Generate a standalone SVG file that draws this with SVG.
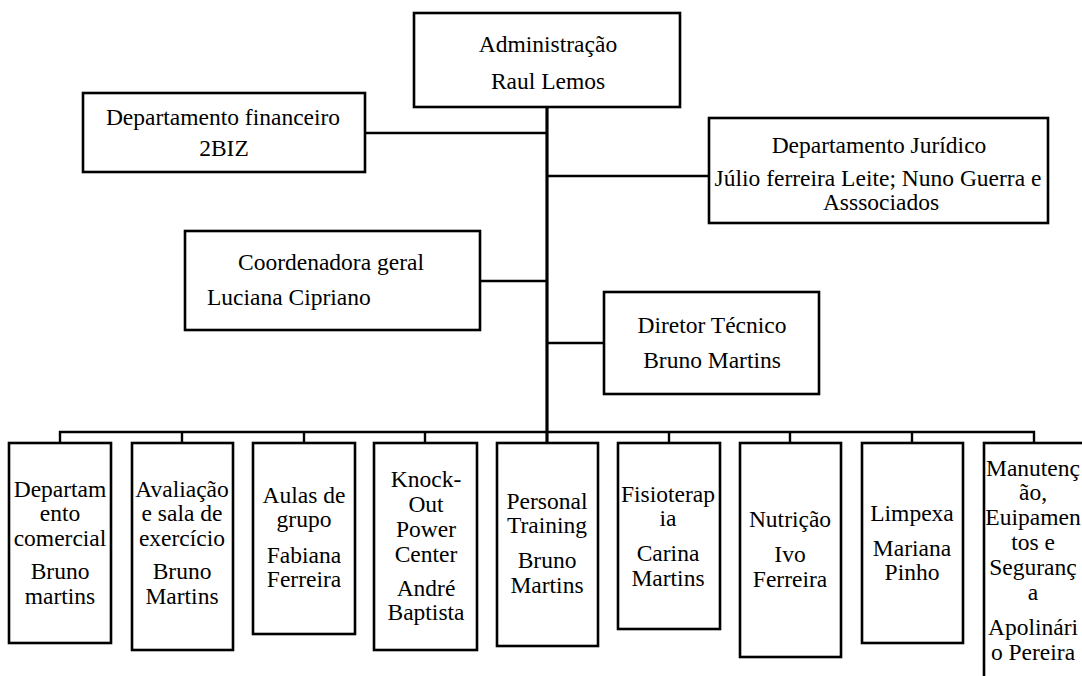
<svg xmlns="http://www.w3.org/2000/svg" width="1082" height="676" viewBox="0 0 1082 676">
<style>
.box{fill:#fff;stroke:#000;stroke-width:2.6}
.t{font-family:"Liberation Serif","Times New Roman",serif;font-size:23.5px;fill:#000;text-anchor:middle}
.ts{font-family:"Liberation Serif","Times New Roman",serif;font-size:23.5px;fill:#000}
.c{fill:none;stroke:#000;stroke-width:2.4}
.m{fill:none;stroke:#000;stroke-width:3.2}
</style>
<rect width="1082" height="676" fill="#fff"/>
<g id="connectors">
<line class="m" x1="547" y1="107" x2="547" y2="443"/>
<line class="c" x1="365" y1="133" x2="547" y2="133"/>
<line class="c" x1="547" y1="176" x2="709" y2="176"/>
<line class="c" x1="480" y1="281" x2="547" y2="281"/>
<line class="c" x1="547" y1="343" x2="604" y2="343"/>
<path class="c" d="M60,443 V432 H1034 V443 M182,432 V443 M304,432 V443 M425,432 V443 M669,432 V443 M790,432 V443 M912,432 V443"/>
</g>
<g id="admin">
<rect class="box" x="414" y="13" width="266" height="94"/>
<text class="t" x="548" y="52">Administração</text>
<text class="t" x="548" y="89">Raul Lemos</text>
</g>
<g id="financeiro">
<rect class="box" x="83" y="93" width="282" height="79"/>
<text class="t" x="223" y="125">Departamento financeiro</text>
<text class="t" x="224" y="156">2BIZ</text>
</g>
<g id="juridico">
<rect class="box" x="709" y="118" width="339" height="105"/>
<text class="t" x="879" y="153">Departamento Jurídico</text>
<text class="t" x="878" y="186">Júlio ferreira Leite; Nuno Guerra e</text>
<text class="t" x="881" y="210">Asssociados</text>
</g>
<g id="coordenadora">
<rect class="box" x="185" y="231" width="295" height="99"/>
<text class="ts" x="238" y="270">Coordenadora geral</text>
<text class="ts" x="207" y="305">Luciana Cipriano</text>
</g>
<g id="diretor">
<rect class="box" x="604" y="292" width="215" height="102"/>
<text class="t" x="712" y="333">Diretor Técnico</text>
<text class="t" x="712" y="368">Bruno Martins</text>
</g>
<g id="comercial">
<rect class="box" x="9" y="443" width="102" height="200"/>
<text class="t" x="60" y="497">Departam</text>
<text class="t" x="60" y="521">ento</text>
<text class="t" x="60" y="546">comercial</text>
<text class="t" x="60" y="579">Bruno</text>
<text class="t" x="60" y="604">martins</text>
</g>
<g id="avaliacao">
<rect class="box" x="132" y="443" width="101" height="207"/>
<text class="t" x="182" y="497">Avaliação</text>
<text class="t" x="182" y="521">e sala de</text>
<text class="t" x="182" y="546">exercício</text>
<text class="t" x="182" y="579">Bruno</text>
<text class="t" x="182" y="604">Martins</text>
</g>
<g id="aulas">
<rect class="box" x="253" y="443" width="102" height="191"/>
<text class="t" x="304" y="503">Aulas de</text>
<text class="t" x="304" y="527">grupo</text>
<text class="t" x="304" y="563">Fabiana</text>
<text class="t" x="304" y="587">Ferreira</text>
</g>
<g id="knockout">
<rect class="box" x="374" y="443" width="103" height="207"/>
<text class="t" x="426" y="487">Knock-</text>
<text class="t" x="426" y="512">Out</text>
<text class="t" x="426" y="537">Power</text>
<text class="t" x="426" y="562">Center</text>
<text class="t" x="426" y="596">André</text>
<text class="t" x="426" y="620">Baptista</text>
</g>
<g id="personal">
<rect class="box" x="497" y="443" width="101" height="203"/>
<text class="t" x="547" y="509">Personal</text>
<text class="t" x="547" y="533">Training</text>
<text class="t" x="547" y="568">Bruno</text>
<text class="t" x="547" y="593">Martins</text>
</g>
<g id="fisioterapia">
<rect class="box" x="618" y="443" width="102" height="186"/>
<text class="t" x="668" y="502">Fisioterap</text>
<text class="t" x="668" y="526">ia</text>
<text class="t" x="668" y="561">Carina</text>
<text class="t" x="668" y="586">Martins</text>
</g>
<g id="nutricao">
<rect class="box" x="740" y="443" width="101" height="214"/>
<text class="t" x="790" y="527">Nutrição</text>
<text class="t" x="790" y="562">Ivo</text>
<text class="t" x="790" y="587">Ferreira</text>
</g>
<g id="limpeza">
<rect class="box" x="862" y="443" width="101" height="200"/>
<text class="t" x="912" y="521">Limpexa</text>
<text class="t" x="912" y="556">Mariana</text>
<text class="t" x="912" y="580">Pinho</text>
</g>
<g id="manutencao">
<rect class="box" x="984" y="443" width="104" height="250"/>
<text class="t" x="1033" y="476">Manutenç</text>
<text class="t" x="1033" y="500">ão,</text>
<text class="t" x="1033" y="525">Euipamen</text>
<text class="t" x="1033" y="550">tos e</text>
<text class="t" x="1033" y="575">Seguranç</text>
<text class="t" x="1033" y="600">a</text>
<text class="t" x="1033" y="635">Apolinári</text>
<text class="t" x="1033" y="660">o Pereira</text>
</g>
</svg>
